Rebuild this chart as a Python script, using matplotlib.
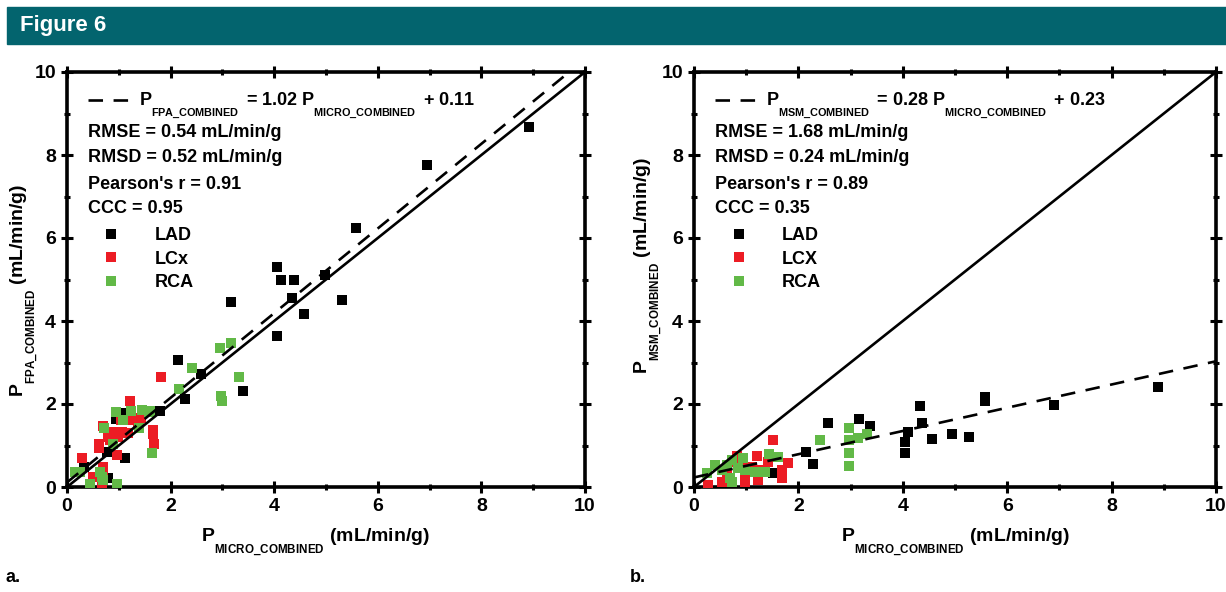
import matplotlib
matplotlib.use('Agg')
import matplotlib.pyplot as plt
import matplotlib._mathtext as mathtext_internals
from matplotlib.patches import Rectangle
import numpy as np

plt.rcParams['font.family'] = ['Liberation Sans', 'DejaVu Sans']
plt.rcParams['font.weight'] = 'bold'
plt.rcParams['mathtext.fontset'] = 'custom'
plt.rcParams['mathtext.bf'] = 'Liberation Sans:bold'
plt.rcParams['mathtext.rm'] = 'Liberation Sans:bold'
# the original uses small subscripts that hang well below the baseline
mathtext_internals.SHRINK_FACTOR = 0.6
mathtext_internals.FontConstantsBase.sub1 = 1.1

BLACK = '#000000'
RED = '#ec1c24'
GREEN = '#62b947'
TEAL = '#03646e'

# panel a: P_MICRO vs P_FPA
fpa_lad_x = [8.92, 6.95, 5.58, 4.05, 4.13, 4.38, 4.98, 4.34, 4.58, 5.31, 3.17, 4.05,
             2.14, 2.59, 2.28, 3.40, 1.80, 0.95, 1.12, 0.33, 0.79, 1.08, 0.78]
fpa_lad_y = [8.67, 7.76, 6.24, 5.30, 4.99, 4.99, 5.11, 4.55, 4.17, 4.51, 4.46, 3.64,
             3.06, 2.72, 2.12, 2.31, 1.83, 1.64, 0.70, 0.48, 0.22, 1.78, 0.85]
fpa_lcx_x = [1.81, 1.22, 1.24, 1.04, 1.43, 0.70, 0.89, 1.06, 1.18, 1.66, 1.66, 1.68,
             0.62, 0.62, 0.83, 0.98, 0.97, 0.29, 0.70, 0.70, 0.50, 0.67, 1.37, 0.79]
fpa_lcx_y = [2.65, 2.07, 1.61, 1.61, 1.66, 1.47, 1.33, 1.33, 1.30, 1.37, 1.28, 1.04,
             1.04, 0.94, 1.13, 1.20, 0.77, 0.70, 0.48, 0.33, 0.24, 0.10, 1.54, 1.20]
fpa_rca_x = [2.95, 3.17, 2.41, 2.16, 3.32, 2.97, 2.99, 1.60, 0.95, 1.24, 1.45, 1.58,
             1.08, 0.71, 1.39, 0.89, 1.64, 0.25, 0.64, 0.67, 0.70, 0.44, 0.97, 0.15]
fpa_rca_y = [3.35, 3.47, 2.87, 2.36, 2.65, 2.19, 2.07, 1.83, 1.81, 1.83, 1.86, 1.81,
             1.61, 1.42, 1.42, 1.04, 0.82, 0.36, 0.36, 0.24, 0.17, 0.07, 0.07, 0.36]

# panel b: P_MICRO vs P_MSM
msm_lad_x = [8.89, 6.90, 5.57, 5.57, 4.33, 4.37, 4.10, 4.04, 4.04, 4.56, 4.94, 5.27,
             2.57, 3.16, 3.37, 2.28, 2.14, 1.52]
msm_lad_y = [2.41, 1.98, 2.08, 2.16, 1.95, 1.54, 1.33, 1.08, 0.82, 1.16, 1.28, 1.20,
             1.54, 1.64, 1.47, 0.55, 0.85, 0.34]
msm_lcx_x = [1.52, 1.21, 1.23, 0.98, 0.98, 0.75, 0.82, 1.42, 1.80, 1.69, 1.69, 1.11,
             0.63, 0.54, 0.27, 0.92, 1.26]
msm_lcx_y = [1.13, 0.75, 0.17, 0.12, 0.29, 0.60, 0.75, 0.60, 0.58, 0.41, 0.22, 0.48,
             0.29, 0.12, 0.05, 0.58, 0.41]
msm_rca_x = [2.97, 2.97, 2.97, 2.97, 3.31, 3.14, 2.41, 1.44, 1.61, 0.94, 0.73, 0.40,
             0.25, 0.54, 0.69, 0.73, 0.98, 1.17, 1.36, 0.84, 0.63]
msm_rca_y = [1.42, 1.13, 0.82, 0.51, 1.28, 1.18, 1.13, 0.80, 0.72, 0.70, 0.65, 0.53,
             0.34, 0.41, 0.22, 0.12, 0.41, 0.36, 0.36, 0.46, 0.53]

fits = {'a': (1.02, 0.11), 'b': (0.28, 0.23)}
stats_a = ['RMSE = 0.54 mL/min/g', 'RMSD = 0.52 mL/min/g', "Pearson's r = 0.91", 'CCC = 0.95']
stats_b = ['RMSE = 1.68 mL/min/g', 'RMSD = 0.24 mL/min/g', "Pearson's r = 0.89", 'CCC = 0.35']


def sub(base, s, gap=False):
    s = s.replace('_', r'\_')
    return r'$\mathbf{%s}_{\mathbf{%s}}%s$' % (base, s, r'\,' if gap else '')


fig = plt.figure(figsize=(12.26, 5.92), dpi=100)
fig.patches.append(Rectangle((7 / 1226, 1 - 44 / 592), 1, 37 / 592,
                             transform=fig.transFigure, color=TEAL, zorder=0))
fig.text(20 / 1226, 1 - 26 / 592, 'Figure 6', color='white', fontsize=16,
         fontweight='bold', va='center', ha='left')

ax1 = fig.add_axes([67 / 1226, 1 - 487 / 592, 518 / 1226, 415 / 592])
ax2 = fig.add_axes([694 / 1226, 1 - 487 / 592, 522 / 1226, 415 / 592])


def style(ax):
    ax.set_xlim(0, 10)
    ax.set_ylim(0, 10)
    ax.set_xticks(np.arange(0, 11, 2))
    ax.set_yticks(np.arange(0, 11, 2))
    ax.set_xticks(np.arange(1, 10, 2), minor=True)
    ax.set_yticks(np.arange(1, 10, 2), minor=True)
    for sp in ax.spines.values():
        sp.set_linewidth(2.6)
    ax.tick_params(which='both', direction='inout', top=True, right=True, width=2.2)
    ax.tick_params(which='major', length=8, labelsize=14, pad=4)
    ax.tick_params(which='minor', length=5)
    for lab in ax.get_xticklabels() + ax.get_yticklabels():
        lab.set_fontweight('bold')


def panel(ax, data, fit, name, stats, lcx_name, xlab_x, ylab_pos):
    style(ax)
    xs = np.array([0, 10])
    ax.plot(xs, xs, color='black', lw=1.9, zorder=4)
    slope, icpt = fit
    dline, = ax.plot(xs, slope * xs + icpt, color='black', lw=1.9,
                     dashes=(5.5, 4), zorder=4)
    labels = ['LAD', lcx_name, 'RCA']
    colors = [BLACK, RED, GREEN]
    handles = []
    for (x, y), c, lab in zip(data, colors, labels):
        h, = ax.plot(x, y, 's', color=c, ms=7.2, mew=0, ls='none', zorder=3, label=lab)
        handles.append(h)
    eq = '%s = %.2f %s + %.2f' % (sub('P', name, True), slope,
                                  sub('P', 'MICRO_COMBINED', True), icpt)
    leg1 = ax.legend([dline], [eq], loc='center left', bbox_to_anchor=(0.041, 0.918),
                     frameon=False, fontsize=13, handlelength=2.2, handletextpad=0.6,
                     borderpad=0, borderaxespad=0)
    ax.add_artist(leg1)
    for i, s in enumerate(stats):
        ax.text(0.041, [0.855, 0.793, 0.728, 0.672][i], s, transform=ax.transAxes,
                fontsize=13, fontweight='bold', va='center', ha='left')
    ax.legend(handles=handles, loc='center left', bbox_to_anchor=(0.068, 0.549),
              frameon=False, fontsize=13, handlelength=1.0, handletextpad=1.9,
              borderpad=0, borderaxespad=0, labelspacing=0.36)
    ax.set_xlabel(sub('P', 'MICRO_COMBINED') + ' (mL/min/g)', fontsize=14,
                  fontweight='bold', labelpad=8)
    ax.xaxis.label.set_x(xlab_x)
    ax.set_ylabel(sub('P', name) + ' (mL/min/g)', fontsize=14, fontweight='bold')
    ax.yaxis.set_label_coords(*ylab_pos)


panel(ax1, [(fpa_lad_x, fpa_lad_y), (fpa_lcx_x, fpa_lcx_y), (fpa_rca_x, fpa_rca_y)],
      fits['a'], 'FPA_COMBINED', stats_a, 'LCx', 0.479, (-0.050, 0.475))
panel(ax2, [(msm_lad_x, msm_lad_y), (msm_lcx_x, msm_lcx_y), (msm_rca_x, msm_rca_y)],
      fits['b'], 'MSM_COMBINED', stats_b, 'LCX', 0.5, (-0.056, 0.533))

fig.text(5 / 1226, 1 - 578 / 592, 'a.', fontsize=13, fontweight='bold', va='center')
fig.text(630 / 1226, 1 - 578 / 592, 'b.', fontsize=13, fontweight='bold', va='center')

fig.savefig('out.png', dpi=100)
